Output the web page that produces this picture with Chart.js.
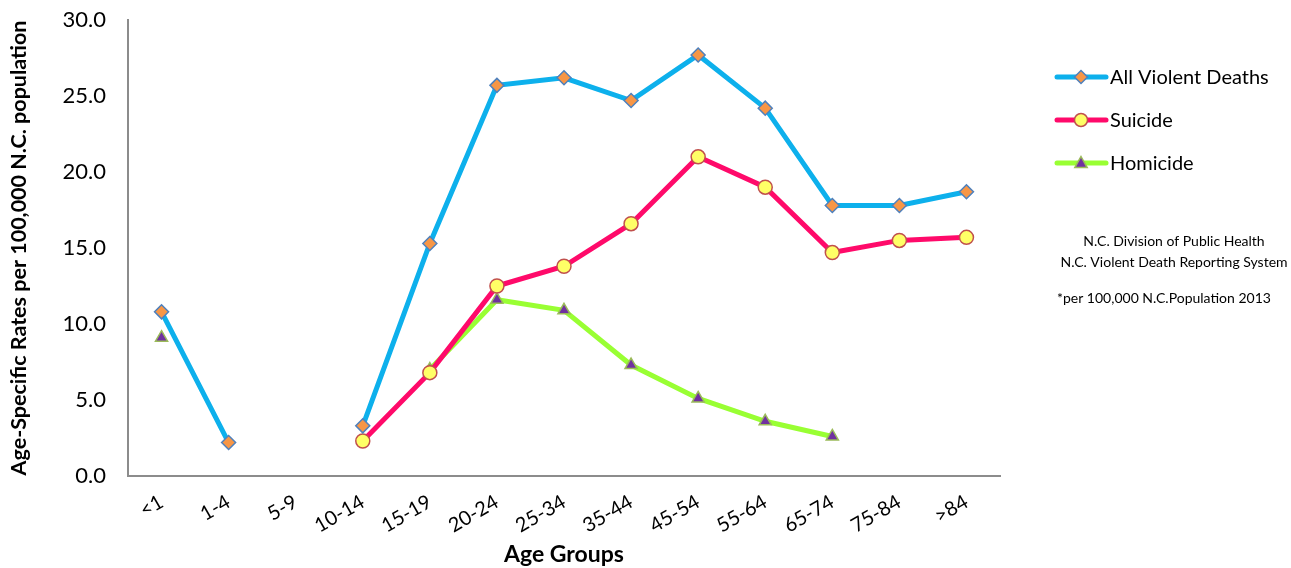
<!DOCTYPE html>
<html>
<head>
<meta charset="utf-8">
<script src="https://cdn.jsdelivr.net/npm/chart.js@4.4.0/dist/chart.umd.min.js"></script>
<style>
  html, body { margin: 0; padding: 0; background: #fff; }
  #wrap { width: 1291px; height: 568px; position: relative; }
</style>
</head>
<body>
<div id="wrap"><canvas id="c" width="1291" height="568"></canvas></div>
<script>
const categories = ['<1', '1-4', '5-9', '10-14', '15-19', '20-24', '25-34', '35-44', '45-54', '55-64', '65-74', '75-84', '>84'];
const allViolent = [10.8, 2.2, null, 3.3, 15.3, 25.7, 26.2, 24.7, 27.7, 24.2, 17.8, 17.8, 18.7];
const suicide    = [null, null, null, 2.3, 6.8, 12.5, 13.8, 16.6, 21.0, 19.0, 14.7, 15.5, 15.7];
const homicide   = [9.1, null, null, null, 7.0, 11.6, 10.9, 7.3, 5.1, 3.6, 2.6, null, null];
const seriesNames = ['All Violent Deaths', 'Suicide', 'Homicide'];
const yTicks = [0, 5, 10, 15, 20, 25, 30];
const notes = ['N.C. Division of Public Health', 'N.C. Violent Death Reporting System', '*per 100,000 N.C.Population 2013'];

const FONT = 'Lato, "Open Sans", sans-serif';

const styles = [
  { line: '#0DB0EC', fill: '#F79646', border: '#4F81BD', shape: 'rectRot' },
  { line: '#FF0A6A', fill: '#FFFF66', border: '#C0504D', shape: 'circle' },
  { line: '#99FF33', fill: '#7030A0', border: '#9BBB59', shape: 'triangle' }
];
const dataSets = [allViolent, suicide, homicide];

function drawShape(ctx, shape, x, y, r) {
  if (shape === 'circle') {
    ctx.arc(x, y, r, 0, Math.PI * 2);
  } else if (shape === 'rectRot') {
    ctx.moveTo(x, y - r); ctx.lineTo(x + r, y); ctx.lineTo(x, y + r); ctx.lineTo(x - r, y); ctx.closePath();
  } else {
    ctx.moveTo(x, y - r); ctx.lineTo(x + r * 0.95, y + r * 0.7); ctx.lineTo(x - r * 0.95, y + r * 0.7); ctx.closePath();
  }
}

const legendPlugin = {
  id: 'sideLegend',
  afterDraw(chart) {
    const ctx = chart.ctx;
    ctx.save();
    const ys = [77, 120, 163];
    seriesNames.forEach((name, i) => {
      const s = styles[i];
      const y = ys[i];
      ctx.strokeStyle = s.line;
      ctx.lineWidth = 5;
      ctx.lineCap = 'round';
      ctx.beginPath();
      ctx.moveTo(1057, y);
      ctx.lineTo(1106, y);
      ctx.stroke();
      ctx.fillStyle = s.fill;
      ctx.strokeStyle = s.border;
      ctx.lineWidth = 1.5;
      ctx.beginPath();
      drawShape(ctx, s.shape, 1081, y, 6.5);
      ctx.fill();
      ctx.stroke();
      ctx.fillStyle = '#000';
      ctx.font = '20px ' + FONT;
      ctx.textBaseline = 'middle';
      ctx.textAlign = 'left';
      ctx.fillText(name, 1110, y + 1);
    });
    ctx.font = '14px ' + FONT;
    ctx.textAlign = 'center';
    ctx.fillStyle = '#000';
    ctx.fillText(notes[0], 1174, 241);
    ctx.fillText(notes[1], 1174, 262);
    ctx.textAlign = 'left';
    ctx.fillText(notes[2], 1057, 298);
    ctx.restore();
  }
};

new Chart(document.getElementById('c'), {
  type: 'line',
  data: {
    labels: categories,
    datasets: dataSets.map((d, i) => ({
      label: seriesNames[i],
      data: d,
      borderColor: styles[i].line,
      borderWidth: 5,
      backgroundColor: styles[i].fill,
      pointBackgroundColor: styles[i].fill,
      pointBorderColor: styles[i].border,
      pointBorderWidth: 1.5,
      pointStyle: styles[i].shape,
      pointRadius: 7,
      pointHoverRadius: 7,
      spanGaps: false,
      tension: 0,
      fill: false
    }))
  },
  options: {
    responsive: false,
    animation: false,
    devicePixelRatio: 1,
    layout: { padding: { left: 0, right: 291, top: 20, bottom: 0 } },
    plugins: { legend: { display: false }, tooltip: { enabled: false } },
    scales: {
      x: {
        offset: true,
        grid: { display: false, drawTicks: false },
        border: { display: true, color: '#8c8c8c', width: 2 },
        ticks: { color: '#000', font: { family: FONT, size: 20 }, minRotation: 30, maxRotation: 30, padding: 14, autoSkip: false },
        title: { display: true, text: 'Age Groups', color: '#000', font: { family: FONT, size: 23, weight: 'bold' }, padding: { top: 0, bottom: 0 } },
        afterFit(scale) { scale.height = 92; scale.paddingTop = 0; scale.paddingBottom = 0; }
      },
      y: {
        min: 0, max: 30,
        afterBuildTicks(scale) { scale.ticks = yTicks.map(v => ({ value: v })); },
        grid: { display: false, drawTicks: false },
        border: { display: true, color: '#8c8c8c', width: 2 },
        ticks: { color: '#000', font: { family: FONT, size: 22 }, padding: 22, callback: v => v.toFixed(1) },
        title: { display: true, text: 'Age-Specific Rates per 100,000 N.C. population', color: '#000', font: { family: FONT, size: 21.5, weight: 'bold' }, padding: { top: 6, bottom: 0 } },
        afterFit(scale) { scale.width = 128; scale.paddingTop = 0; scale.paddingBottom = 0; }
      }
    }
  },
  plugins: [legendPlugin]
});
</script>
</body>
</html>
